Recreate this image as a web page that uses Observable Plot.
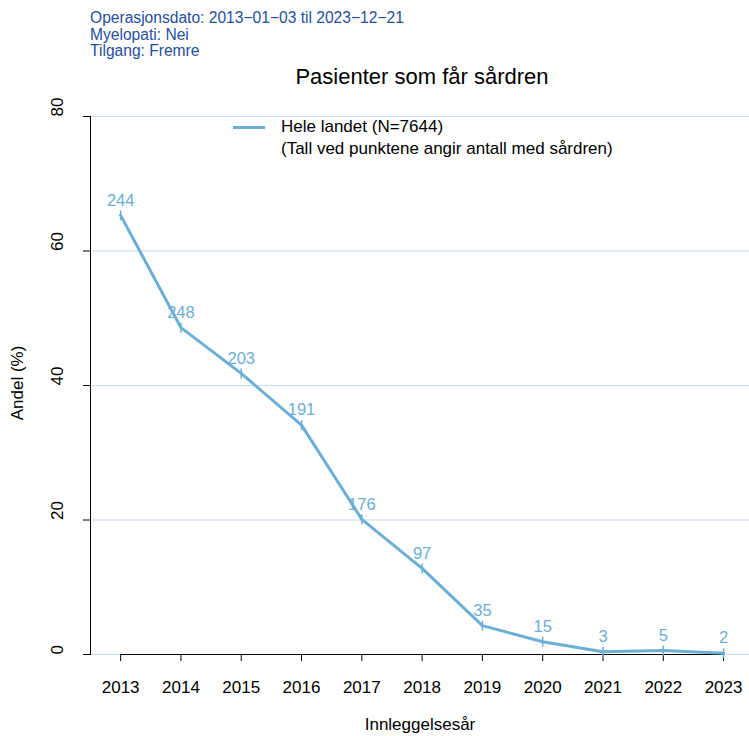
<!DOCTYPE html>
<html><head><meta charset="utf-8">
<script src="https://cdn.jsdelivr.net/npm/d3@7"></script>
<script src="https://cdn.jsdelivr.net/npm/@observablehq/plot@0.6"></script>
<style>
body{margin:0;background:#fff;font-family:"Liberation Sans",Arial,sans-serif;}
#wrap{position:relative;width:749px;height:736px;overflow:hidden;}
.abs{position:absolute;white-space:nowrap;}
.sub{left:90px;top:10px;color:#1f4f9e;font-size:15.6px;line-height:16.5px;}
#chart{position:absolute;left:0;top:0;}
</style></head>
<body><div id="wrap">
<div id="chart"></div>
<div class="abs sub">Operasjonsdato: 2013−01−03 til 2023−12−21<br>Myelopati: Nei<br>Tilgang: Fremre</div>
<div class="abs" style="left:422px;top:77px;transform:translate(-50%,-50%);font-size:22px;color:#000">Pasienter som får sårdren</div>
<div class="abs" style="left:233px;top:126px;width:32px;height:3px;background:#6baed6"></div>
<div class="abs" style="left:281px;top:127px;transform:translateY(-50%);font-size:17px">Hele landet (N=7644)</div>
<div class="abs" style="left:281px;top:149px;transform:translateY(-50%);font-size:17px">(Tall ved punktene angir antall med sårdren)</div>
<div class="abs" style="left:420px;top:725px;transform:translate(-50%,-50%);font-size:17px">Innleggelsesår</div>
<div class="abs" style="left:18px;top:383px;transform:translate(-50%,-50%) rotate(-90deg);font-size:17px">Andel (%)</div>
</div>
<script>
const years = [2013, 2014, 2015, 2016, 2017, 2018, 2019, 2020, 2021, 2022, 2023];
const andel = [65.3, 48.6, 41.8, 34.1, 20.1, 12.8, 4.3, 1.9, 0.4, 0.6, 0.2];
const antall = [244, 248, 203, 191, 176, 97, 35, 15, 3, 5, 2];
const yTicks = [0, 20, 40, 60, 80];

const data = years.map((y, i) => ({year: y, andel: andel[i], n: antall[i]}));
const lineColor = "#6baed6";
const vbar = {draw(ctx, size) { const r = Math.sqrt(size / Math.PI); ctx.moveTo(0, -r); ctx.lineTo(0, r); }};

const chart = Plot.plot({
  width: 749, height: 736,
  marginLeft: 90, marginRight: 0, marginTop: 116, marginBottom: 82,
  style: {fontFamily: "Liberation Sans, Arial, sans-serif", fontSize: "17px", color: "#000", background: "transparent"},
  x: {domain: [2012.5, 2023.43]},
  y: {domain: [0, 80]},
  marks: [
    Plot.gridY(yTicks, {stroke: "#c6dbef", strokeOpacity: 1, strokeWidth: 1}),
    Plot.frame({anchor: "left", stroke: "#000"}),
    Plot.ruleY([0], {x1: d3.min(years), x2: d3.max(years), stroke: "#000"}),
    Plot.axisY({ticks: yTicks, tickSize: 7, tickFormat: () => "", label: null}),
    Plot.text(yTicks, {y: d => d, text: d => String(d), frameAnchor: "left", dx: -33, rotate: -90, fontSize: 17, fill: "#000"}),
    Plot.axisX({ticks: years, tickFormat: d => String(d), tickSize: 7, tickPadding: 19, fontSize: 17, label: null}),
    Plot.line(data, {x: "year", y: "andel", stroke: lineColor, strokeWidth: 3}),
    Plot.dot(data, {x: "year", y: "andel", symbol: vbar, r: 5, stroke: lineColor, strokeWidth: 1.5, fill: "none"}),
    Plot.text(data, {x: "year", y: "andel", text: d => String(d.n), dy: -15, fill: lineColor, fontSize: 16.5})
  ]
});
document.getElementById("chart").appendChild(chart);
</script>
</body></html>
